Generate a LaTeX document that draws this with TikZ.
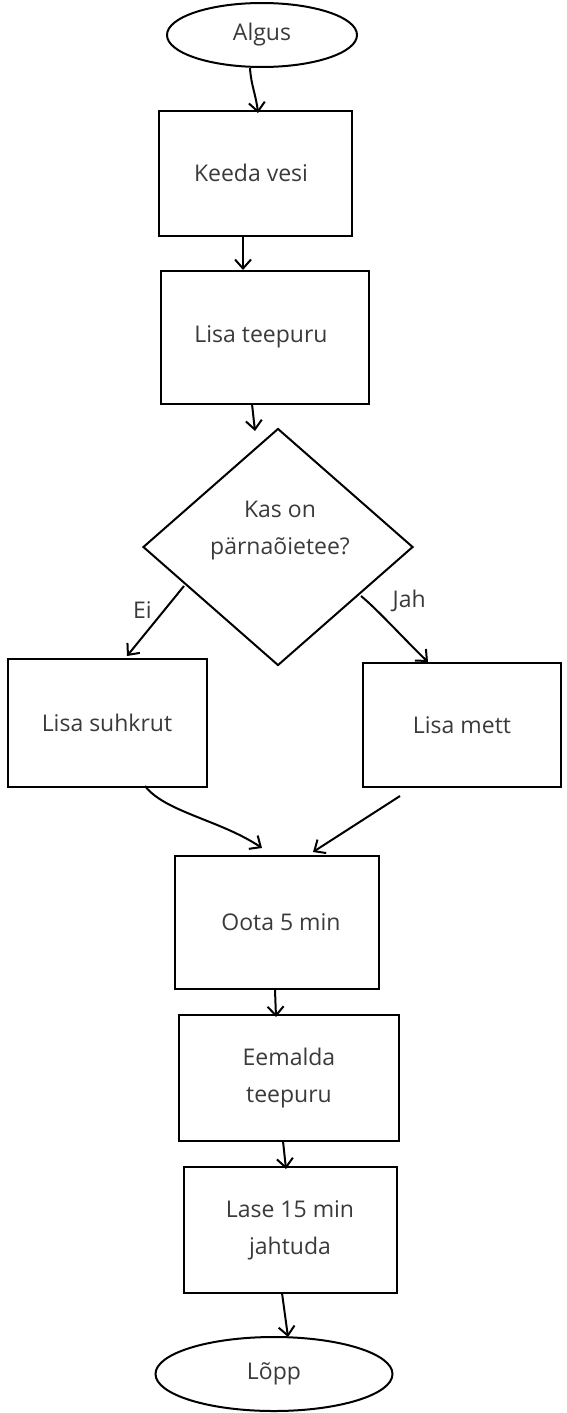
\documentclass[tikz,border=0pt]{standalone}
\usepackage{fontspec}
\setmainfont{Open Sans}
\usetikzlibrary{arrows.meta,shapes.geometric}
\definecolor{txt}{HTML}{3A3A3A}
\tikzset{
  base/.style={draw=black,line width=2pt,text=txt,font=\fontsize{23}{37}\selectfont,align=center,inner sep=0pt},
  box/.style={base,rectangle},
  term/.style={base,ellipse},
  decide/.style={base,diamond,aspect=1.14},
  conn/.style={line width=2pt,-{Straight Barb[length=9pt,width=16pt,line width=2pt]}},
  lbl/.style={text=txt,font=\fontsize{23}{28}\selectfont}
}
\begin{document}
\begin{tikzpicture}[x=1pt,y=-1pt]
\useasboundingbox (0,0) rectangle (566,1413);
\node[term,minimum width=190pt,minimum height=64pt] (start) at (262,35) {Algus};
\node[box,minimum width=193pt,minimum height=125pt] (keeda) at (255,173) {Keeda vesi\hspace{8pt}};
\node[box,minimum width=208pt,minimum height=133pt] (tee) at (265,337) {Lisa teepuru\hspace{8pt}};
\node[decide,minimum width=270pt,minimum height=237pt] (q) at (278,547) {};
\node[text=txt,font=\fontsize{23}{37}\selectfont,align=center] (qtext) at (280,531) {Kas on\\pärnaõietee?};
\node[box,minimum width=199pt,minimum height=128pt] (suhk) at (107,723) {Lisa suhkrut};
\node[box,minimum width=198pt,minimum height=124pt] (mett) at (462,725) {Lisa mett};
\node[box,minimum width=204pt,minimum height=133pt] (oota) at (277,922) {\hspace{8pt}Oota 5 min};
\node[box,minimum width=220pt,minimum height=126pt] (eem) at (289,1078) {Eemalda\\teepuru};
\node[box,minimum width=213pt,minimum height=126pt] (lase) at (290,1230) {Lase 15 min\\jahtuda};
\node[term,minimum width=237pt,minimum height=74pt] (end) at (274,1374) {Lõpp};

\coordinate (a1) at (250,68);  \coordinate (a2) at (258,113);
\draw[conn] (a1) .. controls (251,85) and (256,95) .. (a2);
\coordinate (b1) at (243,237); \coordinate (b2) at (243,270);
\draw[conn] (b1) -- (b2);
\coordinate (c1) at (252,404); \coordinate (c2) at (255,431);
\draw[conn] (c1) -- (c2);
\coordinate (d1) at (184,586); \coordinate (d2) at (127,656);
\draw[conn] (d1) -- node[lbl,pos=0.35,left=8pt] {Ei} (d2);
\coordinate (e1) at (361,596); \coordinate (e2) at (428,662);
\draw[conn] (e1) .. controls (378,610) and (405,640) .. node[lbl,pos=0.1,right=22pt] {Jah} (e2);
\coordinate (f1) at (145,786); \coordinate (f2) at (262,848);
\draw[conn] (f1) .. controls (165,812) and (220,820) .. (f2);
\coordinate (g1) at (400,796); \coordinate (g2) at (313,852);
\draw[conn] (g1) -- (g2);
\coordinate (h1) at (275,990); \coordinate (h2) at (276,1017);
\draw[conn] (h1) -- (h2);
\coordinate (i1) at (283,1141); \coordinate (i2) at (286,1169);
\draw[conn] (i1) -- (i2);
\coordinate (j1) at (282,1293); \coordinate (j2) at (288,1337);
\draw[conn] (j1) -- (j2);
\end{tikzpicture}
\end{document}
